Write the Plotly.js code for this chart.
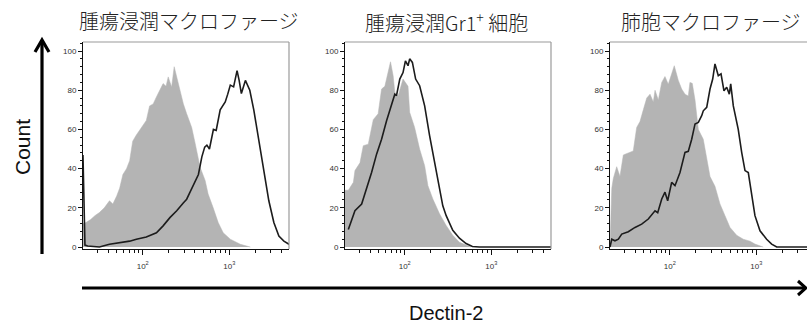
<!DOCTYPE html>
<html>
<head>
<meta charset="utf-8">
<script src="https://cdn.plot.ly/plotly-3.0.1.min.js"></script>
<style>
  html, body { margin: 0; padding: 0; background: #fff; }
  #chart { width: 807px; height: 327px; }
</style>
</head>
<body>
<div id="chart"></div>
<script>
// Panel titles
const panelTitles = ['腫瘍浸潤マクロファージ', '腫瘍浸潤Gr1<sup>+</sup> 細胞', '肺胞マクロファージ'];

// Tumour-infiltrating macrophages: isotype control (grey fill) and Dectin-2 stain (black line)
const tamIsoX = [20.4, 22.1, 25, 28, 31.6, 36, 41.3, 45.2, 50, 54.1, 59, 65, 70.6, 76.6, 84, 92.3, 101, 110, 120, 132, 144, 158, 172, 186, 197, 207, 216, 231, 243, 253, 269, 295, 322, 368, 403, 430, 460, 526, 570, 652, 745, 851, 1028, 1343, 1754];
const tamIsoY = [12, 12.5, 14, 16, 17.6, 20, 23.6, 22, 26, 30, 37, 40, 44, 54, 57, 59.5, 62, 64.6, 72, 73, 76.6, 80, 83.4, 82, 86.8, 84, 81.7, 92, 88, 85, 79, 73, 68, 61, 53, 46, 40.7, 34, 27, 20, 12.5, 7.3, 4, 1.4, 0];
const tamDecX = [20.4, 21.5, 23.1, 31.6, 41.3, 54.1, 70.6, 84.5, 110, 144, 172, 206, 247, 294, 322, 352, 385, 440, 482, 520, 551, 590, 656, 706, 785, 850, 898, 960, 1028, 1122, 1180, 1230, 1300, 1380, 1535, 1726, 1919, 2193, 2506, 2864, 3273, 3741, 4276, 5093];
const tamDecY = [47, 1, 0.5, 0, 1.4, 2.2, 3, 4, 5.1, 7.3, 10.8, 15, 18.5, 22.5, 24.4, 28, 32, 37, 46, 51, 52, 50, 60, 59.5, 70, 72, 74, 78, 82.6, 81.7, 86, 90, 85, 78.3, 85, 80, 70, 54, 39, 23.6, 12.5, 5.6, 3, 1];

// Tumour-infiltrating Gr1+ cells
const gr1IsoX = [20.4, 22.3, 25.5, 26.6, 30.4, 33.2, 37.9, 43.3, 49.3, 54, 58.9, 64.3, 68.5, 73.5, 76.8, 83.8, 95.6, 109.2, 114.1, 130.2, 148.7, 169.9, 185.4, 211.4, 252.4, 301.3, 358.9, 428.6, 511.7, 584.3];
const gr1IsoY = [29, 29, 33, 39, 43, 51.7, 52.5, 65, 68, 80.6, 82, 89, 94.5, 87.4, 79, 77, 85.7, 82, 68.7, 61, 50, 41.5, 31.3, 24.5, 17, 11, 6, 2.4, 1, 0];
const gr1DecX = [22.3, 24.4, 26.6, 31.8, 36.3, 41.4, 47.3, 54, 61.7, 70.3, 76.8, 80.3, 87.7, 95.6, 101.9, 109.2, 114.1, 122.6, 133.7, 148.7, 169.9, 193.8, 221.2, 252.4, 275.4, 301.3, 328.8, 358.9, 428.6, 511.7, 605, 728, 5093];
const gr1DecY = [9, 14.3, 18.5, 21.9, 29.6, 38, 47.4, 55, 64.4, 72, 78, 77.2, 85.7, 89, 95, 92.5, 96, 94.2, 85.7, 82.3, 72, 56.8, 43.2, 28, 21, 16, 12.6, 8.5, 4.5, 1.8, 0.3, 0, 0];

// Alveolar macrophages
const alvIsoX = [20.4, 21.4, 22.3, 24.4, 26.6, 29.1, 33.2, 37.9, 41.5, 45.3, 49.5, 54.2, 59.2, 64.6, 67.6, 73.8, 80.8, 88.1, 96.1, 105.2, 112.8, 125.6, 137.4, 150, 163.7, 171, 182, 195.8, 213.9, 243.9, 267.2, 291.7, 332.8, 380.4, 434.5, 496.6, 592.9, 706.3, 845.3, 964, 1202];
const alvIsoY = [0, 30, 35, 41, 36, 47, 48, 49, 61, 64, 70, 76, 78, 74, 80, 75, 84, 87, 83, 89, 92.5, 85, 80.6, 78, 77, 84, 83.5, 75, 60, 55, 46, 36, 31, 22, 16, 10, 6, 4, 3, 1.5, 0];
const alvDecX = [20.4, 21.4, 23.3, 25.5, 27.9, 33.2, 39.7, 47.4, 56.5, 67.6, 72.6, 80.8, 88.1, 94.6, 105.2, 115, 131.3, 150, 163.7, 179.2, 195.8, 213.9, 233.8, 243.9, 267.2, 291.7, 313.3, 332.8, 363.6, 390.9, 422.7, 454.5, 487.5, 505.8, 542, 618, 677.2, 739.6, 807.2, 883.1, 964, 1102, 1315, 1503, 1718, 5093];
const alvDecY = [0, 4, 3.2, 4, 6.6, 7.8, 10, 11.7, 14.3, 18.5, 17.5, 24.5, 28, 23.6, 33, 31.3, 38, 48.3, 48.8, 55, 62.8, 63.6, 67, 69.5, 71.3, 80.6, 85.7, 93.4, 87.4, 88.3, 79.7, 81.5, 78, 83.2, 72, 60, 48.3, 39, 38, 26.2, 16, 8.3, 4, 1.5, 0, 0];

// Axis ticks
const countTicks = [0, 20, 40, 60, 80, 100];
const fluorTicks = [100, 1000];
const fluorTickText = ['10<sup>2</sup>', '10<sup>3</sup>'];
const fluorMinor = [20, 30, 40, 50, 60, 70, 80, 90, 200, 300, 400, 500, 600, 700, 800, 900, 2000, 3000, 4000, 5000];

const W = 807, H = 327;
const px = x => x / W;
const py = y => 1 - y / H;

const ISO_FILL = '#b4b4b4';
const LINE_COL = '#1c1c1c';

const panels = [
  { iso: [tamIsoX, tamIsoY], dec: [tamDecX, tamDecY], left: 83, right: 289, range: [1.31, 3.69], border: true, titleX: 189, titleY: 20 },
  { iso: [gr1IsoX, gr1IsoY], dec: [gr1DecX, gr1DecY], left: 345, right: 551, range: [1.31, 3.69], border: true, titleX: 446, titleY: 22 },
  { iso: [alvIsoX, alvIsoY], dec: [alvDecX, alvDecY], left: 610, right: 807, range: [1.31, 3.585], border: false, titleX: 711, titleY: 21 }
];

const plotTop = 42, plotBottom = 249;
const traces = [];
const shapes = [];
const annotations = [];
const layout = {
  width: W, height: H,
  margin: { l: 0, r: 0, t: 0, b: 0 },
  paper_bgcolor: '#fff', plot_bgcolor: '#fff',
  showlegend: false,
  font: { family: 'Liberation Sans, Arial, sans-serif', color: '#222' }
};

panels.forEach((p, i) => {
  const n = i === 0 ? '' : String(i + 1);
  const xa = 'x' + n, ya = 'y' + n;
  traces.push({
    type: 'scatter', mode: 'lines', x: p.iso[0], y: p.iso[1],
    xaxis: xa, yaxis: ya, fill: 'tozeroy', fillcolor: ISO_FILL,
    line: { color: ISO_FILL, width: 0.5 }, hoverinfo: 'skip'
  });
  traces.push({
    type: 'scatter', mode: 'lines', x: p.dec[0], y: p.dec[1],
    xaxis: xa, yaxis: ya,
    line: { color: LINE_COL, width: 1.6 }, hoverinfo: 'skip'
  });
  layout['xaxis' + n] = {
    type: 'log', range: p.range, domain: [px(p.left), px(p.right)], anchor: ya,
    showline: true, linecolor: '#111', linewidth: 1, showgrid: false, zeroline: false,
    tickmode: 'array', tickvals: fluorTicks, ticktext: fluorTickText,
    ticks: 'outside', ticklen: 5, tickwidth: 1, tickcolor: '#111',
    tickfont: { size: 8, color: '#333' }, ticklabelstandoff: 4,
    minor: { tickmode: 'array', tickvals: fluorMinor, ticks: 'outside', ticklen: 3, tickcolor: '#111', showgrid: false },
    fixedrange: true
  };
  layout['yaxis' + n] = {
    range: [-1, 104.6], domain: [py(plotBottom), py(plotTop)], anchor: xa,
    showline: true, linecolor: '#111', linewidth: 1, showgrid: false, zeroline: false,
    tickmode: 'array', tickvals: countTicks,
    ticks: 'outside', ticklen: 4, tickwidth: 1, tickcolor: '#111',
    tickfont: { size: 8, color: '#333' },
    minor: { dtick: 4, ticks: 'outside', ticklen: 2, tickcolor: '#111', showgrid: false },
    fixedrange: true
  };
  // light frame on the top and right sides of each histogram
  shapes.push({ type: 'line', xref: xa + ' domain', yref: ya + ' domain', x0: 0, x1: 1, y0: 1, y1: 1, line: { color: '#9a9a9a', width: 1.2 } });
  if (p.border) {
    shapes.push({ type: 'line', xref: xa + ' domain', yref: ya + ' domain', x0: 1, x1: 1, y0: 0, y1: 1, line: { color: '#9a9a9a', width: 1.2 } });
  }
  annotations.push({
    xref: 'paper', yref: 'paper', x: px(p.titleX), y: py(p.titleY),
    xanchor: 'center', yanchor: 'middle', showarrow: false,
    text: panelTitles[i],
    font: { family: 'Noto Sans CJK JP, sans-serif', size: 20, weight: 300, color: '#222' }
  });
});

// Count arrow (vertical) and Dectin-2 arrow (horizontal)
shapes.push({ type: 'line', xref: 'paper', yref: 'paper', x0: px(42), x1: px(42), y0: py(254), y1: py(41), line: { color: '#000', width: 3.2 } });
shapes.push({ type: 'path', xref: 'paper', yref: 'paper',
  path: `M ${px(35)} ${py(52)} L ${px(42)} ${py(40)} L ${px(49)} ${py(52)}`,
  line: { color: '#000', width: 3.2 } });
shapes.push({ type: 'line', xref: 'paper', yref: 'paper', x0: px(82), x1: px(805), y0: py(288), y1: py(288), line: { color: '#000', width: 3.2 } });
shapes.push({ type: 'path', xref: 'paper', yref: 'paper',
  path: `M ${px(798)} ${py(281)} L ${px(806)} ${py(288)} L ${px(798)} ${py(295)}`,
  line: { color: '#000', width: 3 } });

annotations.push({
  xref: 'paper', yref: 'paper', x: px(22), y: py(147), textangle: -90,
  xanchor: 'center', yanchor: 'middle', showarrow: false, text: 'Count',
  font: { family: 'Liberation Sans, Arial, sans-serif', size: 21, color: '#111' }
});
annotations.push({
  xref: 'paper', yref: 'paper', x: px(446), y: py(313),
  xanchor: 'center', yanchor: 'middle', showarrow: false, text: 'Dectin-2',
  font: { family: 'Liberation Sans, Arial, sans-serif', size: 20, color: '#111' }
});

layout.shapes = shapes;
layout.annotations = annotations;

Plotly.newPlot('chart', traces, layout, { staticPlot: true, displayModeBar: false });
</script>
</body>
</html>
